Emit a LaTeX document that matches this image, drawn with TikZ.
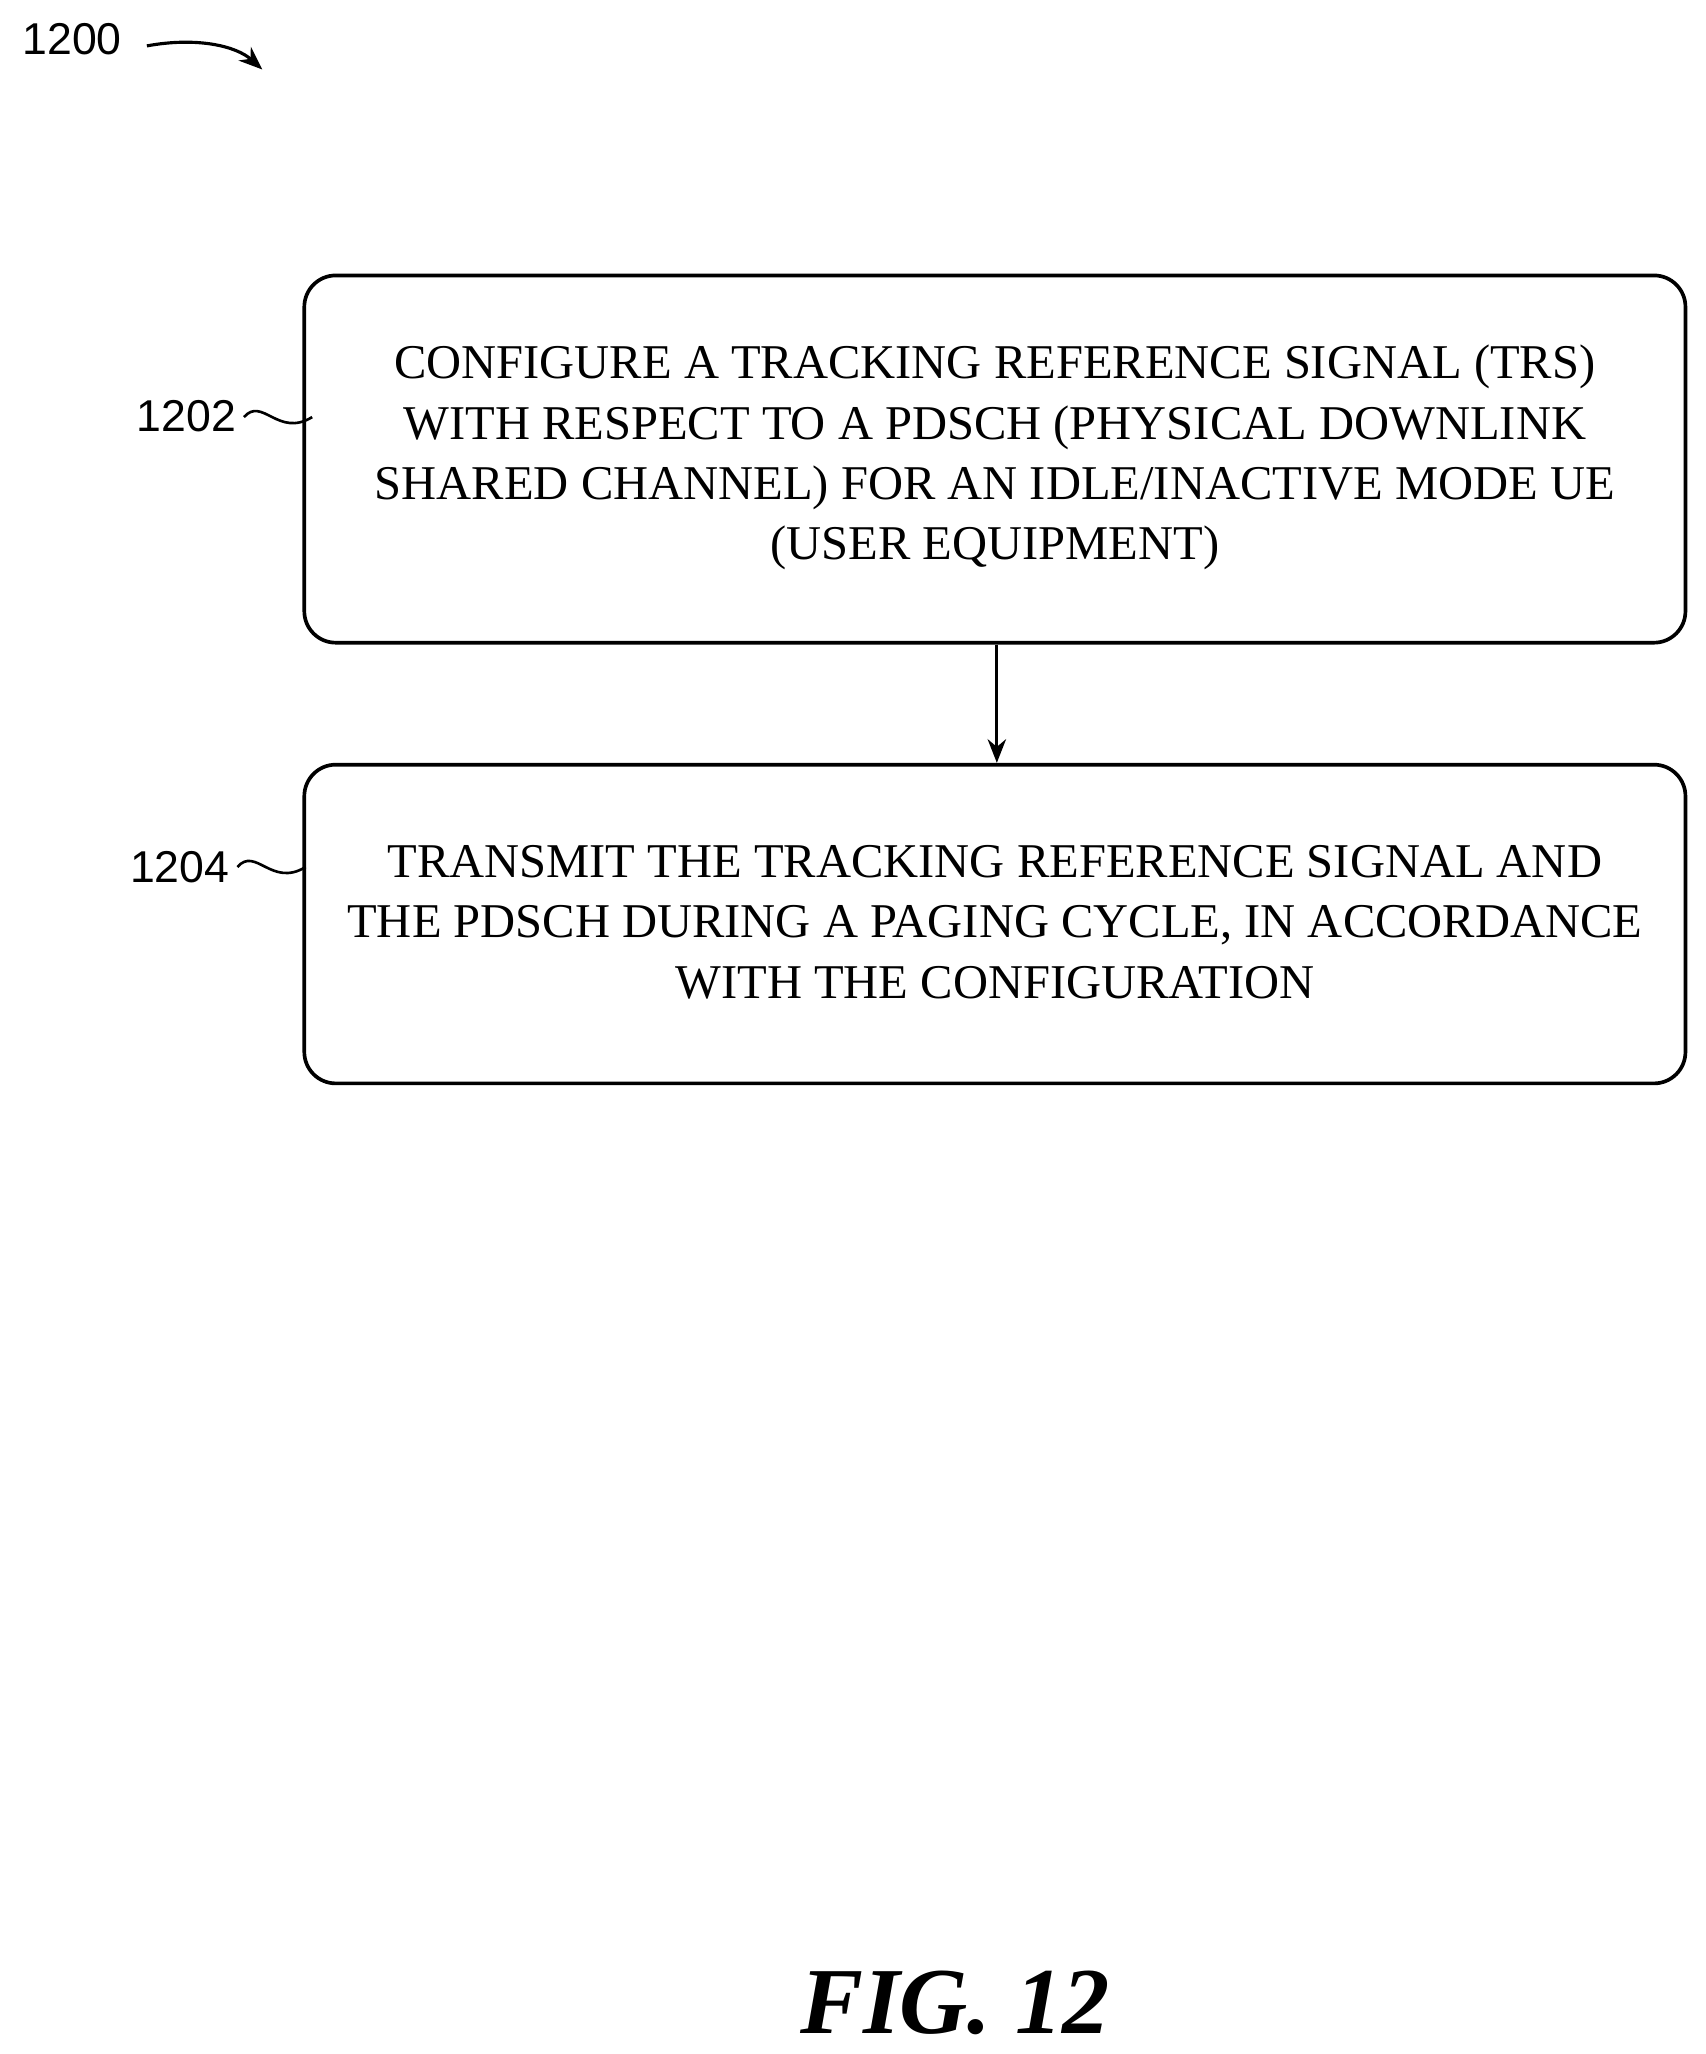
\documentclass[tikz,border=0pt]{standalone}
\usepackage{fontspec}
\setmainfont{Liberation Serif}
\newfontfamily\lbl{Liberation Sans}
\usetikzlibrary{arrows.meta}
\begin{document}
\begin{tikzpicture}[x=0.5pt,y=-0.5pt,
  box/.style={draw,line width=1.4pt,rounded corners=12pt,inner sep=0pt},
  btxt/.style={align=center,font=\fontsize{18.5}{23}\selectfont},
  ref/.style={font=\lbl\fontsize{17}{20}\selectfont},
  arr/.style={line width=1.2pt,-{Stealth[length=9pt,width=7pt]}}]
\useasboundingbox (0,0) rectangle (1300,1566);
\node[box,minimum width=526.5pt,minimum height=140pt] (b1) at (758.5,350) {};
\node[btxt] (t1) at (758.5,349) {CONFIGURE A TRACKING REFERENCE SIGNAL (TRS)\\WITH RESPECT TO A PDSCH (PHYSICAL DOWNLINK\\SHARED CHANNEL) FOR AN IDLE/INACTIVE MODE UE\\(USER EQUIPMENT)};
\node[box,minimum width=526.5pt,minimum height=121.5pt] (b2) at (758.5,704.5) {};
\node[btxt] (t2) at (758.5,703) {TRANSMIT THE TRACKING REFERENCE SIGNAL AND\\THE PDSCH DURING A PAGING CYCLE, IN ACCORDANCE\\WITH THE CONFIGURATION};
\draw[arr] (b1.south -| 760,0) -- (b2.north -| 760,0);
\node[ref] (r0) at (55,30) {1200};
\coordinate (a0) at (112,35);
\coordinate (a1) at (200,53);
\draw[arr] (a0) .. controls (150,28) and (180,35) .. (a1);
\node[ref] (r1) at (142,317) {1202};
\coordinate (c1) at (186,318);
\draw[line width=1pt] (c1) .. controls (200,302) and (212,334) .. (238,318);
\node[ref] (r2) at (137,661) {1204};
\coordinate (c2) at (181,661);
\draw[line width=1pt] (c2) .. controls (195,645) and (207,677) .. (233,661);
\node[font=\bfseries\itshape\fontsize{36}{40}\selectfont] (fig) at (728,1527) {FIG. 12};
\end{tikzpicture}
\end{document}
